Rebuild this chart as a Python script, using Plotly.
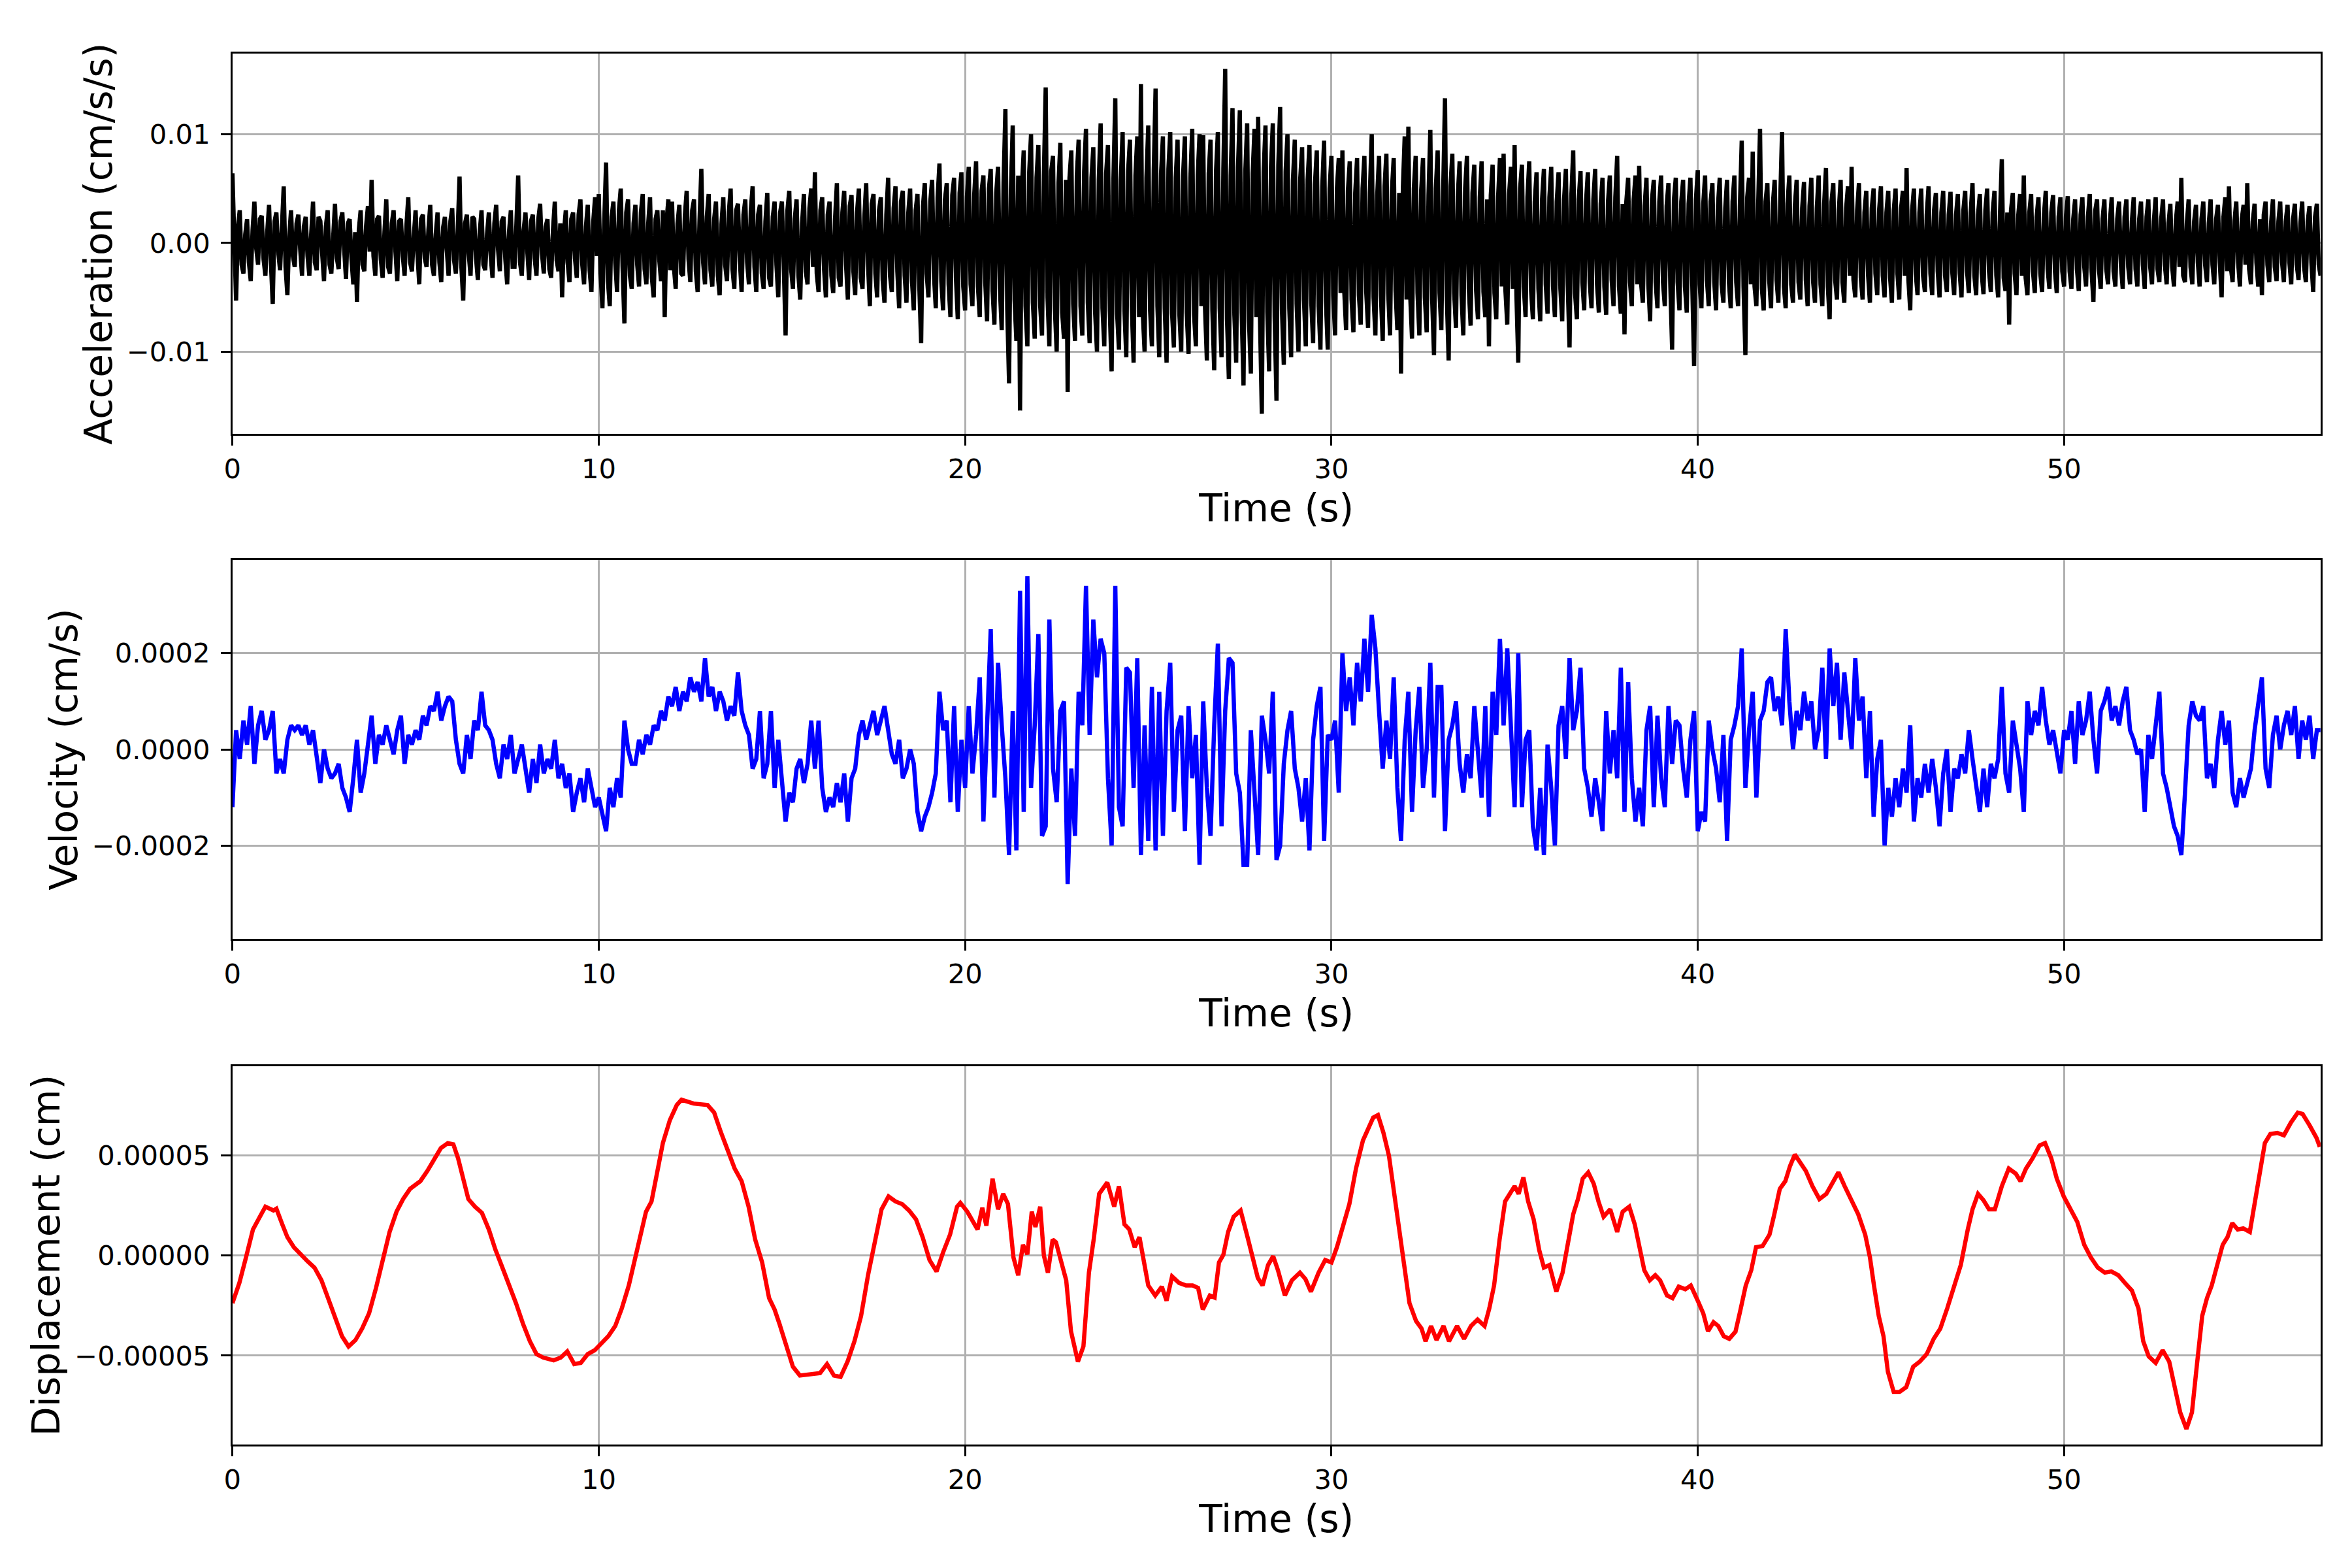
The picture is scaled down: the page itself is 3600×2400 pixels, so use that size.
import plotly.graph_objects as go

# ---------------- data ----------------
# acceleration, units of 1e-4 cm/s/s, samples at t = 0.0, 0.1, 0.2, ... s
accel_e4 = [
    64, -53, 30, -28, 22, -35, 38, -20, 25, -30,
    35, -56, 28, -25, 52, -48, 30, -22, 26, -30,
    24, -30, 38, -25, 20, -35, 30, -28, 36, -24,
    28, -33, 22, -38, -54, 30, -26, 34, 58, -30,
    25, -32, 40, -28, 30, -35, 22, -30, 42, -26,
    30, -38, 26, -22, 35, -30, 28, -36, 24, -30,
    32, -28, 61, -53, 26, -30, 22, -34, 30, -25,
    28, -32, 35, -26, 24, -38, 30, -22, 62, -30,
    28, -34, 26, -30, 36, -28, 22, -32, 38, -26,
    -50, 30, -36, 28, -32, 40, -38, 35, -45, 42,
    45, -60, 74, -58, 38, -45, 50, -74, 40, -42,
    35, -40, 45, -38, 42, -50, 30, -35, -68, 40,
    38, -42, 35, -30, 48, -36, 40, -45, 68, -38,
    45, -40, 38, -48, 42, -35, 50, -42, 36, -45,
    40, -38, 52, -45, 35, -42, 46, -40, 38, -50,
    38, -85, 48, -42, 40, -52, 45, -38, 50, 65,
    -45, 42, -50, 38, -46, 55, -40, 48, -52, 44,
    -48, 50, -42, 55, -58, 45, -50, 42, -55, 60,
    -45, 52, -60, 48, -55, 50, -62, 45, -92, 55,
    -50, 58, -60, 73, -62, 55, -68, 60, -70, 65,
    -62, 70, -58, 75, -68, 62, -72, 68, -75, 70,
    -80, 123, -129, 108, -90, -154, 85, -95, 100, -88,
    90, -85, 143, -95, 80, -100, 92, -88, -137, 85,
    -90, 95, -85, 105, -92, 88, -100, 110, -95, 90,
    -118, 133, -98, 102, -105, 95, -110, 98, 146, -100,
    108, -95, 142, -105, 98, -110, 102, -96, 95, -100,
    98, -102, 105, -95, 100, 99, -108, 95, -117, 102,
    -105, 160, -125, 124, -110, 122, -131, 110, -120, 105,
    116, -157, 108, -118, 110, -145, 125, -112, 100, -105,
    95, -100, 88, -95, 90, -92, 85, -98, 94, -98,
    80, -85, 78, 85, -80, 75, -82, 78, -75, 80,
    -78, 100, -85, 80, -90, 82, -85, 78, -80, -120,
    98, 107, -88, 80, -85, 78, -82, 104, -103, 85,
    -80, 133, -108, 82, -78, 75, -85, 80, -76, 72,
    -70, 75, -68, -95, 72, -70, 78, 82, -75, 70,
    90, -110, 72, -68, 75, -70, 65, -72, 68, -65,
    70, -68, 65, -72, 68, -96, 85, -70, 66, -62,
    65, -60, 68, -64, 60, -66, 62, -58, 80, -65,
    -84, 60, -58, 62, 71, -55, 60, -72, 58, -60,
    62, -58, 55, -98, 60, -62, 58, -64, 60, -113,
    67, -60, 62, -58, 55, -62, 60, -55, 58, -60,
    62, -58, 94, -103, 60, 84, -58, 105, -62, 55,
    -60, 58, -55, 102, -60, 62, -55, 58, -52, 56,
    -58, 60, -55, 62, -58, 69, -70, 55, -52, 58,
    -55, 52, 70, -50, 55, -52, 48, -55, 50, -48,
    52, -50, 48, -55, 50, -52, 48, 69, -62, 50,
    -48, 50, -45, 52, -48, 46, -50, 48, -45, 47,
    -48, 45, -50, 48, -46, 55, -48, 45, -47, 50,
    -45, 48, -50, 77, -44, -75, 46, -48, 45, 62,
    -48, 45, -46, 42, -45, 48, -42, 44, -46, 42,
    -40, 43, -42, 40, -44, 42, -40, 45, -54, 40,
    -42, 40, -38, 42, -40, 38, -42, 40, -38, 42,
    -40, 38, -42, 40, -38, 42, -36, 40, -38, 36,
    -40, 38, 60, -36, 40, -38, 35, -40, 38, -36,
    40, -38, 35, -50, 42, 52, -36, 38, -40, 35,
    55, -38, 36, -40, -48, 38, -36, 40, -35, 38,
    -36, 35, -38, 36, -34, 38, -36, 34, -45, 36,
    -30,
]

# acceleration, units of 1e-4 cm/s/s, samples at t = 0.05, 0.15, 0.25, ... s
accel_mid_e4 = [
    -10, 15, -20, 8, -18, 12, -5, 22, -15, 10,
    -18, 20, -8, 14, -22, 6, -12, 18, -6, 15,
    -12, 8, -18, 24, -10, 15, -20, 5, -14, 20,
    -6, 18, -15, 10, 12, -20, 16, -8, -12, 22,
    -15, 10, -22, 18, -8, 20, -12, 16, -18, 6,
    -10, 22, -14, 12, -20, 8, -18, 14, -6, 20,
    -16, 12, -22, 18, -10, 24, -14, 10, -20, 8,
    -12, 18, -6, 20, -15, 10, -22, 16, -18, 12,
    -8, 20, -14, 22, -10, 15, -24, 12, -16, 18,
    10, -18, 22, -14, 26, -20, 15, -25, 20, -12,
    -28, 20, -35, 24, -18, 30, -22, 28, -30, 18,
    -20, 28, -24, 18, -32, 22, -15, 30, 20, -25,
    -22, 18, -28, 25, -15, 30, -26, 20, -18, 24,
    -25, 22, -30, 18, -20, 28, -24, 30, -16, 26,
    -18, 30, -22, 26, -28, 20, -32, 24, -20, 28,
    -20, 30, -24, 22, -30, 18, -26, 32, -22, -28,
    30, -24, 26, -30, 22, -32, 28, -20, 34, -26,
    28, -32, 24, -20, 36, -28, 30, -34, 26, -30,
    32, -26, 38, -30, 28, -35, 30, -40, 34, -28,
    38, -30, 42, -35, 40, -38, 44, -32, 46, -40,
    42, -38, 45, -40, 48, -36, 50, -44, 46, -42,
    55, -60, 48, -52, 62, 50, -58, 65, -55, 60,
    -58, 62, -50, 66, -60, 55, -64, 58, 60, -56,
    62, -58, 66, -55, 60, -64, 58, -60, 64, -62,
    60, -65, 58, -62, 66, -58, 62, -68, -64, 60,
    -62, 66, -58, 64, -60, 68, -65, 60, -66, 62,
    -64, 60, -66, 62, -58, -60, 64, -62, 66, -60,
    68, -70, 62, -66, 70, -64, 66, -72, 64, -68,
    -70, 66, -64, 70, -68, 72, -62, 66, -60, 58,
    -56, 60, -52, 58, -55, 54, -58, 52, -54, 50,
    -48, 50, -46, -44, 48, -52, 46, -48, 50, -45,
    46, -50, 44, -48, 52, -46, 48, -44, 46, 50,
    -52, -48, 50, -46, 48, -50, 44, -52, 50, -46,
    48, -50, 52, -46, 44, -48, 50, -42, 46, -44,
    42, -45, 40, 44, -46, 42, -40, -44, 45, -42,
    -48, 50, -40, 42, -44, 38, -42, 40, -38, 42,
    -40, 38, -42, 40, -38, 44, -46, 40, -36, 38,
    -36, 40, -38, 36, -40, 38, -34, 42, -40, 36,
    38, -36, 40, -38, -36, 34, -38, 40, -36, 38,
    -36, 34, -38, 40, -36, 38, -40, 36, -38, 40,
    -38, 36, -34, 38, -36, 34, -38, 32, -36, 38,
    -36, 34, -40, 42, -38, -40, 36, -42, 38, -34,
    36, -34, 38, -40, 36, -38, 34, -36, 32, -34,
    34, -36, 32, -38, 36, -40, 38, -34, 30, -36,
    32, -30, -34, 30, -32, 28, -30, 32, -28, 30,
    -30, 28, -32, 30, -28, 32, -30, -34, 30, -28,
    28, -30, 26, -28, 30, -26, 28, -30, 26, -28,
    26, -28, 30, -26, 28, -30, 26, -28, 30, -26,
    28, -30, 26, -32, 28, 30, -28, 26, -30, -32,
    28, -26, 24, -28, 26, -24, 28, -26, 24, -26,
    24, -26, 22, -24, 26, -22, 24, -26, 30, -24,
    22, -24, 20, -26, 22, -20, 24, -22, 20, -24,
    22, -20, 24, -22, 20, -24, 22, -20, 18, -22,
    20, -22, -30, 18, -22, 20, -18, 22, -20, 18,
    -20, 22, -18, 24, -26, -22, 20, -18, 22, -20,
    -24, 20, -18, 22, 26, -20, 18, -22, 20, -18,
    20, -18, 22, -20, 18, -22, 20, -18, 24, -20,
]

# velocity, units of 1e-5 cm/s, one value every 0.1 s from t = 0.0 s
vel_e5 = [
    -12, 4, -2, 6, 1, 9, -3, 5, 8, 2,
    4, 8, -5, -2, -5, 2, 5, 4, 5, 3,
    5, 1, 4, -2, -7, 0, -4, -6, -5, -3,
    -8, -10, -13, -6, 2, -9, -5, 1, 7, -3,
    3, 1, 5, 2, -1, 4, 7, -3, 3, 1,
    4, 2, 7, 5, 9, 8, 12, 6, 9, 11,
    10, 2, -3, -5, 3, -2, 6, 4, 12, 5,
    4, 2, -3, -6, 1, -2, 3, -5, -2, 1,
    -4, -9, -2, -7, 1, -5, -2, -4, 2, -6,
    -3, -8, -5, -13, -9, -6, -11, -4, -8, -12,
    -10, -14, -17, -8, -12, -6, -10, 6, 0, -3,
    -3, 2, -1, 3, 1, 5, 4, 8, 6, 11,
    9, 13, 8, 12, 10, 15, 12, 14, 10, 19,
    11, 13, 8, 12, 10, 6, 9, 7, 16, 8,
    5, 3, -4, -2, 8, -6, -3, 8, -8, 2,
    -6, -15, -9, -11, -4, -2, -7, -3, 6, -4,
    6, -8, -13, -10, -12, -7, -11, -5, -15, -6,
    -4, 3, 6, 2, 5, 8, 3, 6, 9, 4,
    -1, -3, 2, -6, -4, 0, -3, -13, -17, -14,
    -12, -9, -5, 12, 4, 6, -11, 9, -13, 2,
    -8, 9, -5, 3, 15, -15, 5, 25, -10, 18,
    5, -6, -22, 8, -21, 33, -13, 36, -8, 5,
    24, -18, -16, 27, -4, -11, 8, 10, -28, -4,
    -18, 12, 5, 34, 3, 27, 15, 23, 20, -6,
    -20, 34, -12, -16, 17, 16, -8, 19, -22, 5,
    -19, 13, -21, 12, -18, 8, 18, -13, 4, 7,
    -17, 9, -6, 3, -24, 10, -8, -18, 5, 22,
    -16, 8, 19, 18, -5, -9, -24, -24, 4, -10,
    -22, 7, 2, -5, 12, -23, -20, -3, 4, 8,
    -4, -8, -15, -6, -21, 2, 9, 13, -19, 3,
    2, 6, -9, 20, 8, 15, 5, 18, 10, 23,
    12, 28, 21, 8, -4, 6, -2, 15, -8, -19,
    2, 12, -13, 4, 13, -8, 0, 18, -10, 13,
    13, -17, 2, 5, 10, -3, -9, -1, -6, 9,
    -2, -10, 9, -14, 12, 3, 23, 5, 21, 4,
    -12, 20, -12, 2, 4, -16, -21, -8, -22, 1,
    -8, -20, 5, 9, -2, 19, 4, 8, 17, -4,
    -8, -14, -6, -11, -17, 8, -5, 4, -6, 17,
    -13, 14, -6, -15, -8, -16, 4, 9, -12, 7,
    -6, -12, 9, -3, 6, 5, -4, -10, 2, 8,
    -17, -13, -15, 6, 0, -4, -11, 3, -19, 2,
    5, 9, 21, -8, 4, 12, -10, 6, 8, 14,
    15, 8, 11, 5, 25, 10, 0, 8, 4, 12,
    6, 10, 0, 4, 17, -2, 21, 9, 18, 2,
    16, 8, 0, 19, 6, 11, -6, 8, -14, -2,
    2, -20, -8, -14, -6, -12, -4, -9, 5, -15,
    -6, -10, -3, -9, -2, -8, -16, -5, 0, -13,
    -4, -6, -1, -5, 4, -2, -7, -13, -4, -12,
    -3, -6, -2, 13, -5, -9, 6, 1, -4, -13,
    10, 3, 8, 5, 13, 6, 1, 4, 0, -5,
    4, 2, 8, -3, 10, 3, 6, 12, 2, -5,
    8, 10, 13, 6, 9, 5, 10, 13, 4, 2,
    -1, 0, -13, 3, -2, 5, 12, -5, -8, -12,
    -16, -18, -22, -9, 5, 10, 7, 6, 9, -6,
    -3, -8, 2, 8, 1, 6, -9, -12, -6, -10,
    -7, -4, 4, 9, 15, -4, -8, 3, 7, 0,
    5, 8, 3, 9, -2, 6, 2, 7, -2, 4,
    4,
]

# displacement: (time in s, value in units of 1e-6 cm)
disp_points_e6 = [
    (0, -23.8), (0.19, -13.7), (0.37, -1), (0.56, 12.9), (0.75, 19.3), (0.9, 24.3),
    (1.12, 22.4), (1.2, 23.3), (1.36, 15.5), (1.5, 9.1), (1.68, 4), (1.87, 0.3),
    (2.05, -2.9), (2.24, -6.1), (2.43, -12.4), (2.61, -21.3), (2.8, -31.4), (2.99, -40.3),
    (3.17, -45.4), (3.36, -42.2), (3.54, -36.5), (3.73, -28.9), (3.92, -16.2), (4.1, -2.3),
    (4.29, 11.7), (4.48, 21.8), (4.66, 28.1), (4.85, 33.2), (5.13, 37), (5.32, 42.1),
    (5.5, 47.8), (5.69, 53.5), (5.88, 56), (6.03, 55.4), (6.16, 48.4), (6.29, 39.5),
    (6.44, 28.1), (6.62, 24.3), (6.81, 21.2), (7.0, 12.9), (7.18, 2.8), (7.37, -6.1),
    (7.56, -15), (7.74, -23.8), (7.93, -34), (8.12, -42.8), (8.3, -49.2), (8.49, -51),
    (8.77, -52.3), (8.96, -51), (9.14, -47.9), (9.33, -54.2), (9.51, -53.6), (9.7, -49.2),
    (9.89, -47.3), (10.07, -44.1), (10.26, -40.3), (10.45, -35.2), (10.63, -26.4), (10.82, -15),
    (11.0, 0), (11.14, 11.7), (11.29, 21.8), (11.44, 26.9), (11.57, 39.5), (11.75, 56),
    (11.94, 67.4), (12.13, 75), (12.26, 77.6), (12.59, 75.7), (12.97, 75), (13.15, 71.2),
    (13.34, 61.1), (13.53, 52.2), (13.71, 43.3), (13.9, 37), (14.09, 24.3), (14.27, 7.9),
    (14.46, -3.5), (14.65, -21.3), (14.8, -27), (14.93, -34), (15.11, -44.1), (15.3, -55.5),
    (15.49, -59.9), (15.77, -59.3), (16.04, -58.7), (16.23, -54.2), (16.42, -59.9), (16.6, -60.6),
    (16.79, -53), (16.98, -42.8), (17.16, -30.2), (17.35, -9.9), (17.54, 7.9), (17.72, 23),
    (17.91, 29.4), (18.1, 26.9), (18.28, 25.6), (18.47, 22.4), (18.66, 18), (18.84, 9.1),
    (19.03, -2.3), (19.22, -8), (19.4, 1.5), (19.59, 10.4), (19.78, 24.3), (19.87, 26.2),
    (20.06, 21.8), (20.24, 16.7), (20.34, 12.9), (20.47, 23.7), (20.58, 14.8), (20.75, 38.3),
    (20.9, 23), (21.04, 30.7), (21.17, 25.6), (21.32, -1), (21.45, -9.9), (21.58, 5.3),
    (21.7, 0.5), (21.82, 21.8), (21.92, 14.2), (22.05, 24.3), (22.15, 0), (22.26, -8.6),
    (22.39, 7.9), (22.48, 6.6), (22.61, -2.3), (22.76, -12.4), (22.89, -37.8), (23.08, -53),
    (23.23, -45.4), (23.38, -8.6), (23.51, 7.9), (23.66, 30.7), (23.88, 36.4), (24.07, 24.3),
    (24.2, 34.5), (24.35, 15.5), (24.48, 13), (24.63, 4.1), (24.76, 9.1), (24.87, -2.3),
    (25.0, -15), (25.19, -20), (25.37, -15.6), (25.5, -22.6), (25.65, -10.5), (25.84, -13.7),
    (26.03, -15), (26.21, -15), (26.36, -16.2), (26.49, -27), (26.68, -20), (26.81, -21),
    (26.93, -3.5), (27.05, 0.3), (27.18, 11.7), (27.33, 19.3), (27.52, 22.4), (27.71, 9.1),
    (27.84, -1), (27.99, -11.2), (28.12, -15), (28.27, -4.8), (28.41, -0.4), (28.54, -7.4),
    (28.73, -20), (28.92, -12.4), (29.14, -8.6), (29.29, -11.8), (29.44, -18.1), (29.65, -8.6),
    (29.83, -2.3), (30.0, -3.5), (30.15, 4.1), (30.3, 12.9), (30.49, 25.6), (30.67, 43.3),
    (30.86, 57.3), (31.0, 63), (31.14, 68.7), (31.27, 70), (31.42, 61.1), (31.57, 49.7),
    (31.7, 33.2), (31.83, 14.2), (31.98, -4.8), (32.13, -23.8), (32.31, -32.7), (32.46, -36.5),
    (32.57, -42.8), (32.72, -35.2), (32.87, -42.2), (33.06, -35.2), (33.21, -42.8), (33.43, -35.2),
    (33.62, -41.6), (33.81, -35.2), (33.99, -32), (34.18, -35.2), (34.31, -26.4), (34.44, -15),
    (34.59, 7.9), (34.74, 26.9), (34.87, 30.7), (35.0, 34.5), (35.11, 30.7), (35.24, 38.9),
    (35.37, 26.9), (35.52, 18), (35.67, 2.8), (35.8, -6.1), (35.95, -4.8), (36.14, -18.1),
    (36.31, -8.6), (36.46, 5.3), (36.6, 20.5), (36.73, 28.1), (36.86, 38.3), (37.01, 41.4),
    (37.16, 35.7), (37.29, 26.9), (37.43, 19.3), (37.61, 23), (37.8, 11.7), (37.95, 21.8),
    (38.13, 24.3), (38.28, 15.5), (38.41, 2.8), (38.54, -7.4), (38.69, -12.4), (38.84, -9.9),
    (38.97, -12.4), (39.16, -20), (39.31, -21.3), (39.48, -15.6), (39.66, -16.9), (39.81, -15),
    (40.0, -22.6), (40.15, -28.9), (40.28, -37.8), (40.43, -33.3), (40.56, -35.2), (40.71, -40.3),
    (40.86, -41.6), (41.03, -38), (41.16, -27.6), (41.31, -15), (41.46, -7.4), (41.59, 4.1),
    (41.77, 4.7), (41.96, 10.4), (42.09, 20.5), (42.24, 33.2), (42.39, 37), (42.52, 44.6),
    (42.65, 50.3), (42.8, 45.9), (42.95, 42.1), (43.13, 34.5), (43.32, 28.1), (43.51, 30.7),
    (43.69, 37), (43.84, 41.4), (44.01, 34.5), (44.2, 27.5), (44.38, 20.5), (44.57, 10.4),
    (44.7, -1), (44.81, -15), (44.94, -30.2), (45.07, -40.3), (45.19, -58), (45.35, -68.2),
    (45.5, -68.2), (45.69, -65.7), (45.88, -55.5), (46.06, -53), (46.25, -49.2), (46.44, -41.6),
    (46.62, -36.5), (46.81, -26.4), (47.0, -15), (47.18, -4.8), (47.37, 12.9), (47.5, 23),
    (47.65, 30.7), (47.8, 27.5), (47.95, 23), (48.11, 23), (48.3, 34.5), (48.49, 43.3),
    (48.68, 40.8), (48.81, 37), (48.96, 43.3), (49.14, 48.4), (49.33, 54.8), (49.48, 56),
    (49.65, 48.4), (49.8, 38.3), (49.99, 29.4), (50.17, 23), (50.36, 16.7), (50.55, 5.3),
    (50.73, -1), (50.92, -6.1), (51.11, -8.6), (51.29, -8), (51.48, -9.9), (51.66, -13.7),
    (51.85, -17.5), (52.03, -26.4), (52.16, -42.8), (52.31, -50.4), (52.5, -53.6), (52.69, -47.3),
    (52.87, -53), (53.02, -65.7), (53.17, -78.3), (53.34, -86.6), (53.49, -78.3), (53.62, -55.5),
    (53.77, -30.2), (53.9, -21.3), (54.03, -15), (54.18, -4.8), (54.33, 5.3), (54.46, 9.1),
    (54.59, 16.1), (54.74, 12.9), (54.89, 13.5), (55.07, 11.7), (55.2, 25.6), (55.33, 39.5),
    (55.48, 56), (55.63, 60.5), (55.82, 61.1), (56.0, 59.9), (56.19, 66.2), (56.38, 71.2),
    (56.51, 70.5), (56.7, 64.9), (56.89, 58.6), (56.98, 54.1),
]

x_ticks = [0, 10, 20, 30, 40, 50]
acc_ticks = [-0.01, 0.0, 0.01]
acc_ticktext = ["\u22120.01", "0.00", "0.01"]
vel_ticks = [-0.0002, 0.0, 0.0002]
vel_ticktext = ["\u22120.0002", "0.0000", "0.0002"]
disp_ticks = [-0.00005, 0.0, 0.00005]
disp_ticktext = ["\u22120.00005", "0.00000", "0.00005"]

# ---------------- derived series ----------------
acc_t, acc = [], []
for i, v in enumerate(accel_e4):
    acc_t.append(round(i * 0.1, 2))
    acc.append(v * 1e-4)
    if i < len(accel_mid_e4):
        acc_t.append(round(i * 0.1 + 0.05, 2))
        acc.append(accel_mid_e4[i] * 1e-4)
vel_t = [round(i * 0.1, 1) for i in range(len(vel_e5))]
vel = [v * 1e-5 for v in vel_e5]
disp_t = [p[0] for p in disp_points_e6]
disp = [p[1] * 1e-6 for p in disp_points_e6]

# ---------------- styling ----------------
FONT = "DejaVu Sans"
TICK_SIZE = 41.7
LABEL_SIZE = 58.3
SPINE = 3.3
LINE_W = 6.5
XDOM = [0.0966, 0.9844]
DY = 0.0033

fig = go.Figure()
fig.add_trace(go.Scatter(x=acc_t, y=acc, mode="lines",
                         line=dict(color="black", width=LINE_W),
                         xaxis="x", yaxis="y", showlegend=False, hoverinfo="skip"))
fig.add_trace(go.Scatter(x=vel_t, y=vel, mode="lines",
                         line=dict(color="#0000ff", width=LINE_W),
                         xaxis="x2", yaxis="y2", showlegend=False, hoverinfo="skip"))
fig.add_trace(go.Scatter(x=disp_t, y=disp, mode="lines",
                         line=dict(color="#ff0000", width=LINE_W),
                         xaxis="x3", yaxis="y3", showlegend=False, hoverinfo="skip"))


def common():
    return dict(
        showgrid=True, gridcolor="#b0b0b0", gridwidth=SPINE,
        showline=True, linecolor="black", linewidth=SPINE, mirror=True,
        ticks="outside", ticklen=14.6, tickwidth=SPINE, tickcolor="black",
        zeroline=False, automargin=False,
        tickfont=dict(family=FONT, size=TICK_SIZE, color="black"),
    )


def xaxis(anchor):
    d = common()
    d.update(domain=XDOM, range=[0, 57], tickmode="array", tickvals=x_ticks,
             ticktext=[str(v) for v in x_ticks], anchor=anchor, ticklabelstandoff=0,
             title=dict(text="Time (s)", font=dict(family=FONT, size=LABEL_SIZE, color="black"),
                        standoff=17))
    return d


def yaxis(anchor, dom, rng, tv, tt, title):
    d = common()
    d.update(domain=[dom[0] + DY, dom[1] + DY], range=rng, tickmode="array", tickvals=tv,
             ticktext=tt, anchor=anchor, ticklabelstandoff=8,
             title=dict(text=title, font=dict(family=FONT, size=LABEL_SIZE, color="black"),
                        standoff=4))
    return d


fig.update_layout(
    width=3600, height=2400,
    margin=dict(l=0, r=0, t=0, b=0),
    paper_bgcolor="white", plot_bgcolor="white",
    font=dict(family=FONT, color="black"),
    xaxis=xaxis("y"),
    xaxis2=xaxis("y2"),
    xaxis3=xaxis("y3"),
    yaxis=yaxis("x", [0.7233, 0.9658], [-0.01755, 0.0174], acc_ticks, acc_ticktext,
                "Acceleration (cm/s/s)"),
    yaxis2=yaxis("x2", [0.4013, 0.6429], [-0.000394, 0.000394], vel_ticks, vel_ticktext,
                 "Velocity (cm/s)"),
    yaxis3=yaxis("x3", [0.0788, 0.3200], [-0.0000943, 0.0000943], disp_ticks, disp_ticktext,
                 "Displacement (cm)"),
)

fig.write_html("out.html")
